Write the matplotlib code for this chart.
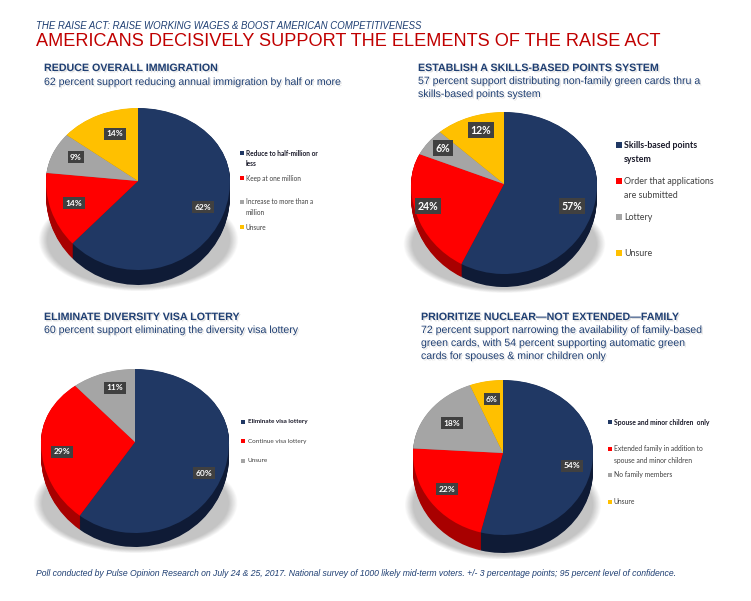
import matplotlib
matplotlib.use("Agg")
import matplotlib.pyplot as plt
import matplotlib.patheffects as pe
from matplotlib.patches import Ellipse, Rectangle
import numpy as np

W, H = 751, 601

# Poll values
immigration_vals = [62, 14, 9, 14]
skills_vals = [57, 24, 6, 12]
lottery_vals = [60, 29, 11]
family_vals = [54, 22, 18, 6]

immigration_labels = ["Reduce to half-million or\nless", "Keep at one million",
                      "Increase to more than a\nmillion", "Unsure"]
skills_labels = ["Skills-based points\nsystem", "Order that applications\nare submitted",
                 "Lottery", "Unsure"]
lottery_labels = ["Eliminate visa lottery", "Continue visa lottery", "Unsure"]
family_labels = ["Spouse and minor children  only",
                 "Extended family in addition to\nspouse and minor children",
                 "No family members", "Unsure"]

headings = ["REDUCE OVERALL IMMIGRATION", "ESTABLISH A SKILLS-BASED POINTS SYSTEM",
            "ELIMINATE DIVERSITY VISA LOTTERY", "PRIORITIZE NUCLEAR\u2014NOT EXTENDED\u2014FAMILY"]
subheads = ["62 percent support reducing annual immigration by half or more",
            "57 percent support distributing non-family green cards thru a\nskills-based points system",
            "60 percent support eliminating the diversity visa lottery",
            "72 percent support narrowing the availability of family-based\ngreen cards, with 54 percent supporting automatic green\ncards for spouses & minor children only"]

NAVY, RED, GREY, GOLD = "#203864", "#ff0000", "#a5a5a5", "#ffc000"
FACE_COLORS = [NAVY, RED, GREY, GOLD]
SIDE_COLORS = ["#0f1b36", "#a80000", "#707070", "#b08600"]
LOTTERY_FACE = [NAVY, RED, GREY]
LOTTERY_SIDE = SIDE_COLORS[:3]
TEXT_BLUE = "#1f3f73"

# layout, all in pixels of the 751x601 picture
# apex x, apex y, left, right, top, face bottom, wall bottom
pie_boxes = [(138, 181, 47, 230, 108, 270, 285),
             (504, 184, 412, 597, 112, 274, 287),
             (135, 442, 42, 229, 369, 533, 547),
             (503, 453, 413, 593, 380, 535, 553)]
head_xy = [(44, 68), (418, 68), (44, 317), (421, 317)]
sub_xy = [(44, 82), (418, 81), (44, 330), (421, 330)]
# pct label centres
pct_xy = [[(203, 207), (74, 203), (76, 157), (115, 134)],
          [(572, 206), (428, 206), (443, 148), (481, 130)],
          [(204, 473), (62, 452), (115, 388)],
          [(572, 466), (447, 489), (452, 423), (492, 399)]]
pct_size = [6.0, 7.6, 6.0, 6.0]
# legend: square x, text x, first line y of each entry, font size, line gap
legend_x = [(242, 246), (619, 624), (243, 248), (610, 614)]
legend_y = [[153, 178, 202, 227], [145, 181, 217, 253], [422, 441, 461], [422, 449, 475, 502]]
legend_size = [4.7, 6.4, 4.6, 4.85]
legend_gap = [10.5, 14, 10, 11]
marker_size = [3.0, 3.8, 3.0, 3.2]


def shadow(ax, box):
    ax_x, ax_y, left, right, top, face_bot, wall_bot = box
    cx = (left + right) / 2
    rx = (right - left) / 2
    clip = Rectangle((left - 20, ax_y + 25), right - left + 40, wall_bot - ax_y - 25 + 6,
                     transform=ax.transData)
    for k in np.linspace(1.0, 1.09, 12):
        e = Ellipse((cx, face_bot - 30), 2 * rx * k, 2 * (wall_bot - face_bot + 32) * k,
                    facecolor="#000000", edgecolor="none", alpha=0.02, zorder=1)
        ax.add_patch(e)
        e.set_clip_path(clip)


def draw_pie(box, vals, face, side):
    ax_x, ax_y, left, right, top, face_bot, wall_bot = box
    rx = max(ax_x - left, right - ax_x)
    ax = fig.add_axes([(ax_x - rx) / W, 1 - wall_bot / H, 2 * rx / W, (wall_bot - top) / H], zorder=1)
    ry_top = ax_y - top
    ry_bot = face_bot - ax_y
    depth = (wall_bot - face_bot) / ry_bot

    for s in np.linspace(depth, 0.005, 18):
        ax.pie(vals, colors=side, startangle=90, counterclock=False, center=(0, -s),
               radius=1, wedgeprops={"linewidth": 0.6, "edgecolor": "none", "clip_on": False})
    ax.pie(vals, colors=face, startangle=90, counterclock=False, center=(0, 0),
           radius=1, wedgeprops={"linewidth": 0, "clip_on": False})

    # the 3D perspective moves the apex above the middle of the ellipse
    def fwd(y):
        y = np.asarray(y, dtype=float)
        return np.where(y >= 0, y * ry_top, y * ry_bot)

    def inv(y):
        y = np.asarray(y, dtype=float)
        return np.where(y >= 0, y / ry_top, y / ry_bot)

    ax.set_aspect("auto")
    ax.set_yscale("function", functions=(fwd, inv))
    ax.set_xlim(-1, 1)
    ax.set_ylim(-1 - depth, 1)
    ax.set_xticks([])
    ax.set_yticks([])
    ax.minorticks_off()
    ax.patch.set_alpha(0)
    return ax


fig = plt.figure(figsize=(W / 100, H / 100), dpi=100, facecolor="white")

bg = fig.add_axes([0, 0, 1, 1], zorder=0)
bg.set_xlim(0, W)
bg.set_ylim(H, 0)
bg.axis("off")

fg = fig.add_axes([0, 0, 1, 1], zorder=2)
fg.set_xlim(0, W)
fg.set_ylim(H, 0)
fg.axis("off")
fg.patch.set_alpha(0)

soft = [pe.SimplePatchShadow(offset=(1, -1), alpha=0.14, shadow_rgbFace="#333333"), pe.Normal()]
HEAD_FONT = "Liberation Sans"
LEG_FONT = "Lato"

fg.text(36, 26, "THE RAISE ACT: RAISE WORKING WAGES & BOOST AMERICAN COMPETITIVENESS",
        family=HEAD_FONT, style="italic", fontsize=6.95, color=TEXT_BLUE, va="center")
fg.text(36, 42, "AMERICANS DECISIVELY SUPPORT THE ELEMENTS OF THE RAISE ACT",
        family=HEAD_FONT, fontsize=13.07, color="#c00000", va="center")
fg.text(36, 573, "Poll conducted by Pulse Opinion Research on July 24 & 25, 2017. National survey of 1000 "
        "likely mid-term voters. +/- 3 percentage points; 95 percent level of confidence.",
        family=HEAD_FONT, style="italic", fontsize=6.2, color=TEXT_BLUE, va="center")

all_vals = [immigration_vals, skills_vals, lottery_vals, family_vals]
all_labels = [immigration_labels, skills_labels, lottery_labels, family_labels]
all_face = [FACE_COLORS, FACE_COLORS, LOTTERY_FACE, FACE_COLORS]
all_side = [SIDE_COLORS, SIDE_COLORS, LOTTERY_SIDE, SIDE_COLORS]

for i in range(4):
    shadow(bg, pie_boxes[i])
    draw_pie(pie_boxes[i], all_vals[i], all_face[i], all_side[i])

    fg.text(head_xy[i][0], head_xy[i][1], headings[i], family=HEAD_FONT, weight="bold",
            fontsize=7.68, color=TEXT_BLUE, va="center", path_effects=soft)
    # subhead lines sit about 13 px apart
    for n, line in enumerate(subheads[i].split("\n")):
        fg.text(sub_xy[i][0], sub_xy[i][1] + n * 13, line, family=HEAD_FONT,
                fontsize=7.6, color=TEXT_BLUE, va="center", path_effects=soft)

    for (px, py), v in zip(pct_xy[i], all_vals[i]):
        fg.text(px, py, f"{v}%", family=LEG_FONT, weight="bold", fontsize=pct_size[i],
                color="white", ha="center", va="center",
                bbox=dict(boxstyle="square,pad=0.28", facecolor="#404040", edgecolor="none"))

    sq_x, txt_x = legend_x[i]
    for k, (label, y0) in enumerate(zip(all_labels[i], legend_y[i])):
        fg.plot([sq_x], [y0], marker="s", markersize=marker_size[i], color=all_face[i][k],
                linestyle="none", markeredgewidth=0)
        for n, line in enumerate(label.split("\n")):
            fg.text(txt_x, y0 + n * legend_gap[i], line, family=LEG_FONT, fontsize=legend_size[i],
                    weight="bold" if k == 0 else "normal", color="#1a1a2a" if k == 0 else "#404040",
                    va="center")

fg.set_xlim(0, W)
fg.set_ylim(H, 0)

fig.savefig("out.png", dpi=100)
plt.close(fig)
